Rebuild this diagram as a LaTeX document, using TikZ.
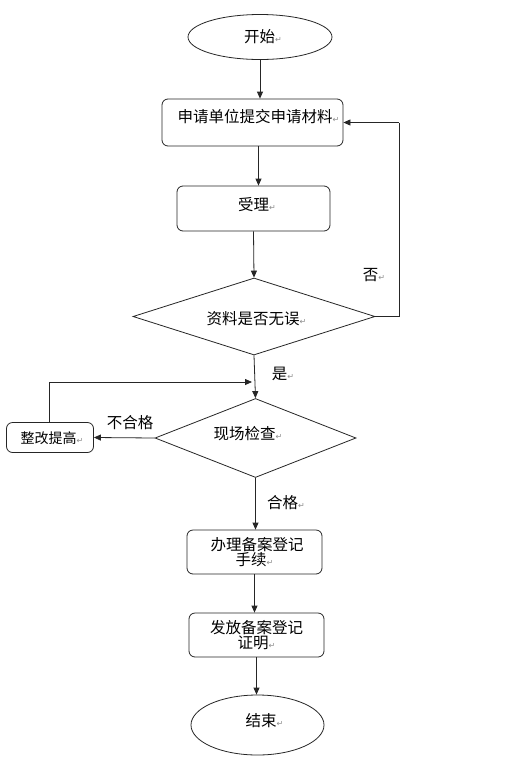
\documentclass[tikz,border=0pt]{standalone}
\usepackage{fontspec}
\setmainfont{Noto Sans CJK SC}
\newfontfamily\dvfont{DejaVu Sans}
\usetikzlibrary{shapes.geometric,arrows.meta}
\newcommand{\pmark}{{\dvfont\fontsize{8}{8}\selectfont\textcolor{black!45}{↵}}}
\newcommand{\vt}[3][0]{\raisebox{\dimexpr #2pt-5.8pt\relax}[0pt][0pt]{\makebox[0pt]{\hspace*{#1pt}\hspace*{#1pt}#3}}}
\begin{document}
\begin{tikzpicture}[x=1pt,y=-1pt,
  every node/.style={font=\fontsize{15.5}{15.5}\selectfont, inner sep=0pt},
  ln/.style={draw=black!85, line width=0.8pt},
  arr/.style={ln, -{Triangle[length=7pt,width=6pt]}},
  ell/.style={ellipse, ln, fill=white},
  rbox/.style={rectangle, rounded corners=6pt, ln, align=center},
  dia/.style={diamond, aspect=3.14, ln},
  lab/.style={font=\fontsize{15.5}{15.5}\selectfont}
]
\useasboundingbox[fill=white] (0,0) rectangle (512,761);

\node[ell, minimum width=144pt, minimum height=45pt] (start) at (260,37) {\vt[3]{0}{开始\pmark}};
\node[rbox, minimum width=181pt, minimum height=47pt] (apply) at (252.5,122.5) {\vt[6]{6}{申请单位提交申请材料\pmark}};
\node[rbox, minimum width=153pt, minimum height=45pt] (accept) at (253.5,208.5) {\vt[3.5]{4}{受理\pmark}};
\node[dia, minimum width=242pt, minimum height=77pt] (check1) at (254,316.5) {\vt[2.5]{-2}{资料是否无误\pmark}};
\node[dia, minimum width=201pt, minimum height=79pt] (check2) at (255.5,438) {\vt[-7.5]{4.5}{现场检查\pmark}};
\node[rbox, minimum width=87pt, minimum height=30pt, font=\fontsize{14}{14}\selectfont] (fix) at (50,437.5) {\vt[2]{-0.5}{整改提高\pmark}};
\node[rbox, minimum width=135pt, minimum height=44pt] (reg) at (254.5,552) {\hspace*{5pt}办理备案登记\\手续\pmark};
\node[rbox, minimum width=135pt, minimum height=44pt] (cert) at (256.5,635) {发放备案登记\\证明\pmark};
\node[ell, minimum width=133pt, minimum height=60pt] (end) at (257.5,725) {\vt[7]{4.5}{结束\pmark}};

\coordinate (r1) at (399,316.5);
\coordinate (r2) at (399,122.5);
\coordinate (f1) at (49,382);
\coordinate (f2) at (255,382);

\draw[arr] (start.south) -- (start.south |- apply.north);
\draw[arr] (apply.south -| accept.north) ++(5,0) -- ([xshift=5pt]accept.north);
\draw[arr] (accept.south) -- (check1.north);
\draw[ln] (check1.east) -- (r1) -- (r2);
\draw[arr] (r2) -- (apply.east);
\draw[arr] (check1.south) -- (check2.north);
\draw[arr] (check2.west) -- (fix.east);
\draw[ln] (fix.north -| f1) -- (f1);
\draw[arr] (f1) -- ([xshift=-3pt]f2);
\draw[arr] (check2.south) -- (check2.south |- reg.north);
\draw[arr] (reg.south) -- (reg.south |- cert.north);
\draw[arr] (cert.south) -- (cert.south |- end.north);

\node[lab] (no) at (374,275) {否\pmark};
\node[lab] (yes) at (283,374) {是\pmark};
\node[lab] (fail) at (130,423) {不合格};
\node[lab] (pass) at (286,503) {合格\pmark};
\end{tikzpicture}
\end{document}
